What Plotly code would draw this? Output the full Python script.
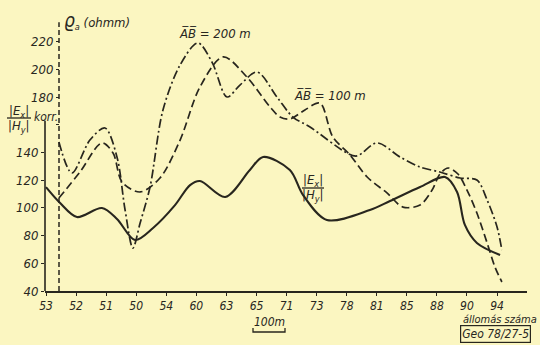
import plotly.graph_objects as go

# ---- data (station index positions along profile) ----
stations = ["53", "52", "51", "50", "54", "60", "63", "65", "71", "73", "78", "81", "85", "88", "90", "94"]

ex_pos = [0.00, 0.47, 1.03, 1.86, 2.36, 2.96, 3.56, 4.29, 4.79, 5.12, 5.96, 6.78, 7.22, 8.11, 8.55, 9.34,
          10.77, 11.44, 12.44, 13.27, 13.67, 13.93, 14.33, 15.10]
ex_val = [115.0, 103.5, 93.4, 99.9, 92.0, 76.8, 85.5, 102.0, 116.5, 119.4, 107.9, 127.4, 136.8, 127.4, 109.3, 91.3,
          98.5, 105.0, 115.1, 122.3, 111.5, 87.7, 74.7, 66.0]

ab200_pos = [0.43, 0.86, 1.46, 1.96, 2.36, 2.63, 2.89, 3.13, 3.46, 3.89, 4.46, 5.05, 5.52, 6.02, 6.45, 7.02,
             7.68, 8.21, 8.78, 10.01, 10.34, 11.01, 11.77, 12.44, 13.10, 13.77, 14.33, 14.67, 15.00, 15.16]
ab200_val = [147.6, 125.2, 149.0, 157.7, 136.8, 98.5, 71.0, 89.1, 115.1, 170.7, 203.2, 219.1, 205.3, 180.1, 188.7, 198.1,
             180.1, 165.6, 158.4, 139.6, 137.5, 146.9, 136.8, 129.5, 125.9, 121.6, 120.1, 105.7, 86.2, 69.6]

ab100_pos = [0.43, 1.13, 1.86, 2.23, 2.53, 3.13, 3.79, 4.46, 5.12, 5.89, 6.68, 7.45, 7.78, 8.11, 8.61, 9.11,
             9.54, 10.11, 10.68, 11.34, 11.87, 12.44, 12.84, 13.10, 13.37, 13.70, 14.00, 14.33, 14.67, 14.93, 15.16]
ab100_val = [107.1, 125.9, 146.9, 139.6, 118.7, 111.5, 121.6, 149.0, 187.3, 209.0, 194.5, 172.9, 165.7, 164.2, 170.7, 175.7,
             151.2, 138.2, 122.3, 110.8, 100.6, 102.1, 112.9, 124.5, 128.8, 124.5, 112.9, 96.3, 74.7, 57.3, 46.5]

ratio_ticks = [40, 60, 80, 100, 120, 140]
rho_ticks = [160, 180, 200, 220]
rho_ticktext = ["", "180", "200", "220"]

# ---- styling ----
BG = "rgb(251,246,193)"
INK = "rgb(40,38,30)"
FONT = "Liberation Sans Narrow, DejaVu Sans Condensed, Arial Narrow, sans-serif"

W, H = 540, 345
L, R, T, B = 45, 13, 20, 54
PW, PH = W - L - R, H - T - B


def fx(px):
    return (px - L) / PW


def fy(py):
    return (H - B - py) / PH


fig = go.Figure()
fig.add_trace(go.Scatter(x=ex_pos, y=ex_val, mode="lines",
                         line=dict(color=INK, width=2.1, shape="spline", smoothing=0.9),
                         hoverinfo="skip", showlegend=False))
fig.add_trace(go.Scatter(x=ab200_pos, y=ab200_val, mode="lines",
                         line=dict(color=INK, width=1.7, shape="spline", smoothing=0.9,
                                   dash="9px,3px,2px,3px"),
                         hoverinfo="skip", showlegend=False))
fig.add_trace(go.Scatter(x=ab100_pos, y=ab100_val, mode="lines",
                         line=dict(color=INK, width=1.7, shape="spline", smoothing=0.9,
                                   dash="8px,4px"),
                         hoverinfo="skip", showlegend=False))
# invisible trace to activate y2
fig.add_trace(go.Scatter(x=[None], y=[None], yaxis="y2", showlegend=False, hoverinfo="skip"))

x0 = -1 / 30.07
x1 = (527 - 46) / 30.07
y0, y1 = 40, 40 + PH / 1.385

tickfont = dict(family=FONT, size=13, color=INK, style="italic")
xtickfont = dict(family=FONT, size=12, color=INK, style="italic")

fig.update_layout(
    width=W, height=H,
    margin=dict(l=L, r=R, t=T, b=B),
    paper_bgcolor=BG, plot_bgcolor=BG,
    xaxis=dict(range=[x0, x1], tickvals=list(range(len(stations))), ticktext=stations,
               showgrid=False, zeroline=False, showline=True, linecolor=INK, linewidth=1.6,
               ticks="outside", ticklen=3, tickcolor=INK, tickwidth=1.2, tickfont=xtickfont,
               ticklabelstandoff=0),
    yaxis=dict(range=[y0, y1], tickvals=ratio_ticks, showgrid=False, zeroline=False,
               showline=False, ticks="outside", ticklen=3, tickcolor=INK, tickwidth=1.2,
               tickfont=tickfont, ticklabelstandoff=0),
    yaxis2=dict(range=[y0, y1], tickvals=rho_ticks, ticktext=rho_ticktext, overlaying="y",
                anchor="free", position=fx(59), side="left", showgrid=False, zeroline=False,
                showline=False, ticks="outside", ticklen=3, tickcolor=INK, tickwidth=1.2,
                tickfont=tickfont),
)

shapes = [
    # solid |Ex|/|Hy| axis
    dict(type="line", xref="paper", yref="y", x0=0, x1=0, y0=40, y1=163, line=dict(color=INK, width=1.6)),
    # dashed rho_a axis
    dict(type="line", xref="paper", yref="y", x0=fx(59), x1=fx(59), y0=40, y1=234,
         line=dict(color=INK, width=1.5, dash="5px,3px")),
    # fraction bars
    dict(type="line", xref="paper", yref="paper", x0=fx(7), x1=fx(31), y0=fy(118), y1=fy(118),
         line=dict(color=INK, width=1.3)),
    dict(type="line", xref="paper", yref="paper", x0=fx(302), x1=fx(324), y0=fy(188), y1=fy(188),
         line=dict(color=INK, width=1.3)),
    # 100 m scale bracket
    dict(type="path", xref="paper", yref="paper",
         path=f"M {fx(253)},{fy(328)} L {fx(253)},{fy(332)} L {fx(285)},{fy(332)} L {fx(285)},{fy(328)}",
         line=dict(color=INK, width=1.3)),
]

txt = dict(family=FONT, size=13, color=INK, style="italic")
small = dict(family=FONT, size=12, color=INK, style="italic")
ann = [
    dict(x=fx(62), y=fy(21), text="<span style='font-size:19px'>ϱ</span><sub>a</sub> (ohmm)",
         xanchor="left", yanchor="middle", font=txt),
    dict(x=fx(19), y=fy(111), text="|E<sub>x</sub>|", xanchor="center", yanchor="middle", font=txt),
    dict(x=fx(19), y=fy(126), text="|H<sub>y</sub>|", xanchor="center", yanchor="middle", font=txt),
    dict(x=fx(32), y=fy(117), text="korr.", xanchor="left", yanchor="middle", font=small),
    dict(x=fx(215), y=fy(33), text="A\u0305B\u0305 = 200 m", xanchor="center", yanchor="middle", font=txt),
    dict(x=fx(330), y=fy(95), text="A\u0305B\u0305 = 100 m", xanchor="center", yanchor="middle", font=txt),
    dict(x=fx(313), y=fy(180), text="|E<sub>x</sub>|", xanchor="center", yanchor="middle", font=txt),
    dict(x=fx(313), y=fy(195), text="|H<sub>y</sub>|", xanchor="center", yanchor="middle", font=txt),
    dict(x=fx(269), y=fy(322), text="100m", xanchor="center", yanchor="middle", font=small),
    dict(x=fx(539), y=fy(319), text="állomás száma", xanchor="right", yanchor="middle",
         font=dict(family=FONT, size=11, color=INK, style="italic")),
    dict(x=fx(495), y=fy(334), text="Geo 78/27-5", xanchor="center", yanchor="middle",
         bordercolor=INK, borderwidth=1.2, borderpad=1, font=small),
]
for a in ann:
    a.update(xref="paper", yref="paper", showarrow=False)

fig.update_layout(shapes=shapes, annotations=ann)
fig.write_html("out.html")
